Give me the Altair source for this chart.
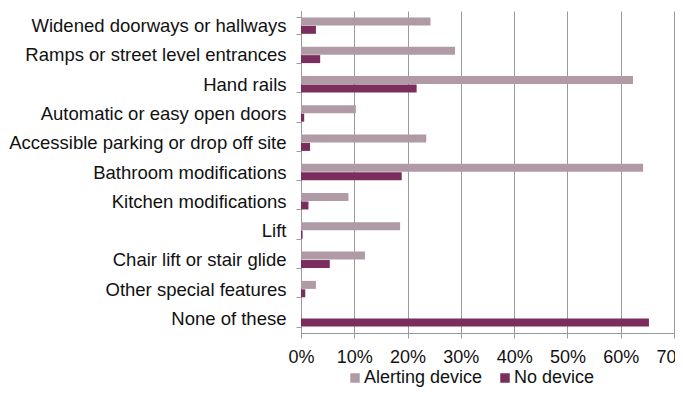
import altair as alt
import pandas as pd

categories = [
    "Widened doorways or hallways",
    "Ramps or street level entrances",
    "Hand rails",
    "Automatic or easy open doors",
    "Accessible parking or drop off site",
    "Bathroom modifications",
    "Kitchen modifications",
    "Lift",
    "Chair lift or stair glide",
    "Other special features",
    "None of these",
]
series = ["Alerting device", "No device"]
alerting = [24.3, 28.9, 62.3, 10.3, 23.5, 64.2, 8.9, 18.6, 12.0, 2.8, 0.0]
no_device = [2.8, 3.6, 21.7, 0.6, 1.7, 18.9, 1.4, 0.3, 5.4, 0.8, 65.3]
colors = ["#B09AA6", "#7B2D5E"]
x_ticks = [0, 10, 20, 30, 40, 50, 60, 70]

rows = []
for c, a, n in zip(categories, alerting, no_device):
    rows.append({"feature": c, "series": series[0], "value": a / 100})
    rows.append({"feature": c, "series": series[1], "value": n / 100})
df = pd.DataFrame(rows)

FONT = "Liberation Sans"
FS = 18

chart = alt.Chart(df).mark_bar().encode(
    x=alt.X(
        "value:Q",
        scale=alt.Scale(domain=[0, 0.7], nice=False),
        axis=alt.Axis(
            values=[v / 100 for v in x_ticks],
            format=".0%",
            title=None,
            grid=True,
            gridColor="#9a9a9a",
            gridWidth=1,
            domainColor="#9a9a9a",
            tickColor="#9a9a9a",
            tickSize=5,
            labelFontSize=FS,
            labelColor="#111111",
            labelFont=FONT,
            labelPadding=10,
            labelOverlap=False,
            labelFlush=False,
        ),
    ),
    y=alt.Y(
        "feature:N",
        sort=categories,
        scale=alt.Scale(paddingInner=0.44, paddingOuter=0.22),
        axis=alt.Axis(
            title=None,
            tickBand="extent",
            domainColor="#9a9a9a",
            tickColor="#9a9a9a",
            tickSize=5,
            labelFontSize=18.5,
            labelColor="#111111",
            labelFont=FONT,
            labelPadding=10,
            labelLimit=400,
        ),
    ),
    yOffset=alt.YOffset("series:N", sort=series, scale=alt.Scale(paddingInner=0.05)),
    color=alt.Color(
        "series:N",
        sort=series,
        scale=alt.Scale(domain=series, range=colors),
        legend=alt.Legend(
            title=None,
            orient="none",
            direction="horizontal",
            legendX=45,
            legendY=358,
            symbolType="square",
            symbolSize=90,
            symbolStrokeWidth=0,
            labelOffset=0,
            labelFontSize=FS,
            labelFont=FONT,
            labelColor="#111111",
            columnPadding=13,
        ),
    ),
).properties(
    width=373,
    height=322,
    autosize=alt.AutoSizeParams(type="none"),
    padding={"left": 293, "top": 3, "right": 1, "bottom": 56},
).configure_view(stroke=None).configure_axis(domainWidth=1)

chart.save("out.html", embed_options={"renderer": "svg", "actions": False})
